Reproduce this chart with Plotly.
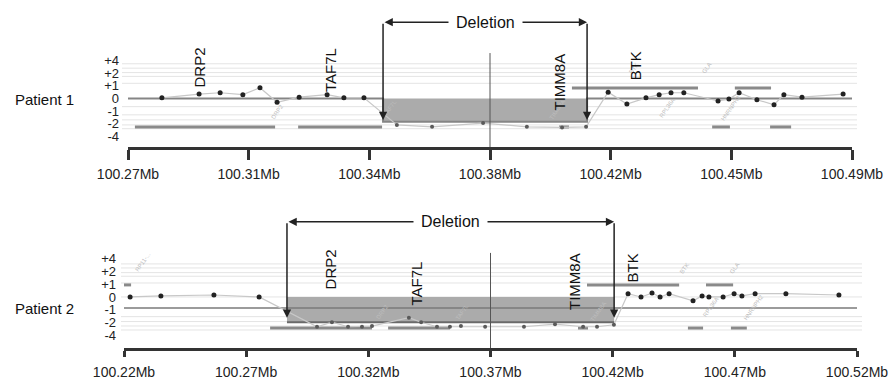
import plotly.graph_objects as go

# ---------------- Panel 1 (Patient 1) ----------------
p1_ticks = [100.27, 100.30667, 100.34333, 100.38, 100.41667, 100.45333, 100.49]
p1_ticklabels = ["100.27Mb", "100.31Mb", "100.34Mb", "100.38Mb", "100.42Mb", "100.45Mb", "100.49Mb"]
p1_x = [100.2803, 100.2916, 100.2980, 100.3049, 100.3101, 100.3153, 100.3220, 100.3305, 100.3356, 100.3417,
        100.3517, 100.3624, 100.3779, 100.3912, 100.4019, 100.4092,
        100.4159, 100.4216, 100.4274, 100.4314, 100.4350, 100.4389, 100.4493, 100.4526, 100.4557, 100.4611,
        100.4663, 100.4693, 100.4748, 100.4873]
p1_y = [0.05, 0.35, 0.45, 0.3, 0.85, -0.3, 0.1, 0.3, 0.05, 0.05,
        -2.1, -2.25, -1.95, -2.25, -2.3, -2.25,
        0.5, -0.45, 0.05, 0.3, 0.45, 0.45, -0.2, -0.05, 0.45, -0.1,
        -0.5, 0.3, 0.1, 0.35]
p1_deletion = [100.3475, 100.4095]
p1_del_level = -1.85
p1_base_level = 0.0
p1_genes_low = [[100.2721, 100.3147], [100.3217, 100.3472], [100.4010, 100.4040],
                [100.4475, 100.4529], [100.4651, 100.4715]]
p1_genes_low_level = -2.26
p1_genes_high = [[100.4049, 100.4432], [100.4544, 100.4654]]
p1_genes_high_level = 0.83
p1_gene_names = ["DRP2", "TAF7L", "TIMM8A", "BTK"]
p1_gene_x = [100.2916, 100.3317, 100.4011, 100.4242]
p1_gene_y = [2.46, 2.26, 1.3, 2.58]
p1_faint_names = ["DRP2", "TAF7L", "TIMM8A", "BTK", "GLA", "RPL36A", "HNRNPH2"]
p1_faint_x = [100.3153, 100.3496, 100.4004, 100.4238, 100.4459, 100.4338, 100.4532]
p1_faint_y = [-1.05, -0.75, -0.9, 2.4, 2.4, -0.75, -0.75]

# ---------------- Panel 2 (Patient 2) ----------------
p2_ticks = [100.22, 100.27, 100.32, 100.37, 100.42, 100.47, 100.52]
p2_ticklabels = ["100.22Mb", "100.27Mb", "100.32Mb", "100.37Mb", "100.42Mb", "100.47Mb", "100.52Mb"]
p2_x = [100.2225, 100.2351, 100.2568, 100.2753,
        100.2990, 100.3051, 100.3117, 100.3174, 100.3215, 100.3366, 100.3416, 100.3481, 100.3534,
        100.3579, 100.3678, 100.3837, 100.3964, 100.4079, 100.4136, 100.4205,
        100.4263, 100.4316, 100.4361, 100.4394, 100.4431, 100.4529, 100.4566, 100.4594, 100.4652,
        100.4697, 100.4729, 100.4783, 100.4909, 100.5126]
p2_y = [0.0, 0.08, 0.15, 0.0,
        -2.3, -1.95, -2.3, -2.3, -2.25, -1.6, -1.95, -2.3, -2.3,
        -2.25, -2.3, -2.3, -2.1, -2.3, -2.3, -2.15,
        0.25, 0.0, 0.3, 0.0, 0.25, -0.3, 0.08, 0.0, 0.0,
        0.25, 0.08, 0.25, 0.25, 0.15]
p2_deletion = [100.2867, 100.4206]
p2_del_level = -1.95
p2_base_level = -0.85
p2_genes_low = [[100.2798, 100.3215], [100.3281, 100.3534], [100.4058, 100.4099],
                [100.4508, 100.4570], [100.4684, 100.4749]]
p2_genes_low_level = -2.4
p2_genes_high = [[100.4095, 100.4472], [100.4582, 100.4693], [100.2188, 100.2229]]
p2_genes_high_level = 0.93
p2_gene_names = ["DRP2", "TAF7L", "TIMM8A", "BTK"]
p2_gene_x = [100.3049, 100.3399, 100.4046, 100.4281]
p2_gene_y = [2.16, 1.04, 1.16, 2.24]
p2_faint_names = ["RP11-...", "DRP2", "TAF7L", "TIMM8A", "BTK", "GLA", "RPL36A", "HNRNPH2"]
p2_faint_x = [100.2277, 100.3257, 100.3584, 100.4140, 100.4496, 100.4701, 100.4603, 100.4779]
p2_faint_y = [2.7, -1.15, -1.15, -1.15, 2.2, 2.2, -0.8, -0.8]

y_tickvals = [3, 2, 1, 0, -1, -2, -3]
y_ticktext = ["+4", "+2", "+1", "0", "-1", "-2", "-4"]
grid_levels_1 = [2.75, 2.4, 2.05, 1.75, 1.2, -0.65, -1.3, -1.7, -2.1, -2.4]
grid_levels_2 = [2.55, 2.24, 1.88, 1.6, 1.08, 0.0, -1.52, -1.9, -2.24, -2.55]

FONT = "Liberation Sans, Arial, Helvetica, sans-serif"
W, H = 892, 380
P1_YRANGE = [-3.85, 6.3]
P2_YRANGE = [-3.94, 6.25]

fig = go.Figure()
shapes = []
annotations = []


def add_panel(xr, yr, xs, ys, dele, del_lvl, base_lvl, glow, glow_lvl, ghigh, ghigh_lvl,
              gnames, gx, gy, fnames, fx, fy, ticks, grid_levels, grid_px, top_arrow_y,
              tip_y, mid_top, ybottom, panel2):
    for lv in grid_levels:
        shapes.append(dict(type="line", xref="paper", yref=yr, x0=grid_px[0] / W, x1=grid_px[1] / W,
                           y0=lv, y1=lv, line=dict(color="#e4e4e4", width=1), layer="below"))
    fig.add_trace(go.Scatter(x=[dele[0], dele[0], dele[1], dele[1]], y=[0, del_lvl, del_lvl, 0],
                             fill="toself", fillcolor="#ababab", line=dict(width=0), mode="lines",
                             xaxis=xr, yaxis=yr, hoverinfo="skip"))
    gxl, gyl = [], []
    for s, e in glow:
        gxl += [s, e, None]
        gyl += [glow_lvl, glow_lvl, None]
    for s, e in ghigh:
        gxl += [s, e, None]
        gyl += [ghigh_lvl, ghigh_lvl, None]
    fig.add_trace(go.Scatter(x=gxl, y=gyl, mode="lines", line=dict(color="#8a8a8a", width=3),
                             xaxis=xr, yaxis=yr, hoverinfo="skip"))
    x0, x1 = ticks[0], ticks[-1]
    if not panel2:
        sx = [x0, dele[0], dele[0], dele[1], dele[1], x1]
        sy = [base_lvl, base_lvl, del_lvl, del_lvl, base_lvl, base_lvl]
        fig.add_trace(go.Scatter(x=sx, y=sy, mode="lines", line=dict(color="#858585", width=2),
                                 xaxis=xr, yaxis=yr, hoverinfo="skip"))
    else:
        fig.add_trace(go.Scatter(x=[x0, x1], y=[base_lvl, base_lvl], mode="lines",
                                 line=dict(color="#7a7a7a", width=1.6), xaxis=xr, yaxis=yr, hoverinfo="skip"))
        fig.add_trace(go.Scatter(x=[dele[0], dele[1]], y=[del_lvl, del_lvl], mode="lines",
                                 line=dict(color="#6a6a6a", width=2), xaxis=xr, yaxis=yr, hoverinfo="skip"))
    fig.add_trace(go.Scatter(x=xs, y=ys, mode="lines", line=dict(color="#c8c8c8", width=1.2),
                             xaxis=xr, yaxis=yr, hoverinfo="skip"))
    inside = [(dele[0] <= x <= dele[1]) for x in xs]
    fig.add_trace(go.Scatter(x=[x for x, i in zip(xs, inside) if not i],
                             y=[y for y, i in zip(ys, inside) if not i],
                             mode="markers", marker=dict(color="#222222", size=5),
                             xaxis=xr, yaxis=yr, hoverinfo="skip"))
    fig.add_trace(go.Scatter(x=[x for x, i in zip(xs, inside) if i],
                             y=[y for y, i in zip(ys, inside) if i],
                             mode="markers", marker=dict(color="#5a5a5a", size=4),
                             xaxis=xr, yaxis=yr, hoverinfo="skip"))
    shapes.append(dict(type="line", xref=xr, yref=yr, x0=ticks[3], x1=ticks[3], y0=mid_top, y1=ybottom,
                       line=dict(color="#555555", width=1), layer="above"))
    for n, x, y in zip(fnames, fx, fy):
        annotations.append(dict(x=x, y=y, xref=xr, yref=yr, text=n, showarrow=False, textangle=-55,
                                font=dict(size=6, color="#bdbdbd", family=FONT)))
    for n, x, y in zip(gnames, gx, gy):
        annotations.append(dict(x=x, y=y, xref=xr, yref=yr, text=n, showarrow=False, textangle=-90,
                                font=dict(size=15, color="#111111", family=FONT)))
    annotations.append(dict(x=dele[1], y=top_arrow_y, ax=dele[0], ay=top_arrow_y, xref=xr, yref=yr,
                            axref=xr, ayref=yr, text="", showarrow=True, arrowside="end+start",
                            arrowhead=2, startarrowhead=2, arrowsize=1.1, startarrowsize=1.1,
                            arrowwidth=1.5, arrowcolor="#222222"))
    annotations.append(dict(x=(dele[0] + dele[1]) / 2, y=top_arrow_y, xref=xr, yref=yr, text="Deletion",
                            showarrow=False, bgcolor="white", borderpad=7,
                            font=dict(size=16, color="#111111", family=FONT)))
    for xd in dele:
        annotations.append(dict(x=xd, y=tip_y, ax=xd, ay=top_arrow_y, xref=xr, yref=yr, axref=xr, ayref=yr,
                                text="", showarrow=True, arrowhead=2, arrowsize=1.1, arrowwidth=1.5,
                                arrowcolor="#222222"))


add_panel("x", "y", p1_x, p1_y, p1_deletion, p1_del_level, p1_base_level,
          p1_genes_low, p1_genes_low_level, p1_genes_high, p1_genes_high_level,
          p1_gene_names, p1_gene_x, p1_gene_y, p1_faint_names, p1_faint_x, p1_faint_y,
          p1_ticks, grid_levels_1, (122, 857), 6.05, -1.7, 3.6, P1_YRANGE[0], False)
add_panel("x2", "y2", p2_x, p2_y, p2_deletion, p2_del_level, p2_base_level,
          p2_genes_low, p2_genes_low_level, p2_genes_high, p2_genes_high_level,
          p2_gene_names, p2_gene_x, p2_gene_y, p2_faint_names, p2_faint_x, p2_faint_y,
          p2_ticks, grid_levels_2, (121, 862), 5.8, -1.6, 3.4, P2_YRANGE[0], True)

annotations.append(dict(x=13 / W, y=-0.1, xref="paper", yref="y", xanchor="left", text="Patient 1",
                        showarrow=False, font=dict(size=15, color="#111111", family=FONT)))
annotations.append(dict(x=13 / W, y=-0.9, xref="paper", yref="y2", xanchor="left", text="Patient 2",
                        showarrow=False, font=dict(size=15, color="#111111", family=FONT)))

xcommon = dict(showgrid=False, zeroline=False, showline=True, linecolor="#333333", linewidth=2.5,
               ticks="outside", tickwidth=2.5, tickcolor="#333333", automargin=False,
               tickfont=dict(size=14, color="#222222", family=FONT))
xinner = dict(showgrid=False, zeroline=False, showline=False, ticks="inside", tickwidth=2.5,
              tickcolor="#333333", showticklabels=False, automargin=False)
ycommon = dict(showgrid=False, zeroline=False, showline=False, ticks="", automargin=False,
               tickvals=y_tickvals, ticktext=y_ticktext,
               tickfont=dict(size=13, color="#222222", family=FONT))

fig.update_layout(
    template="none",
    width=W, height=H, margin=dict(l=0, r=0, t=0, b=0, pad=0),
    paper_bgcolor="white", plot_bgcolor="white", showlegend=False,
    xaxis=dict(domain=[128 / W, 852 / W], range=[p1_ticks[0], p1_ticks[-1]], anchor="y",
               tickvals=p1_ticks, ticktext=p1_ticklabels, ticklen=10, ticklabelstandoff=2, **xcommon),
    xaxis3=dict(overlaying="x", anchor="y", side="bottom", range=[p1_ticks[0], p1_ticks[-1]],
                tickvals=p1_ticks, ticklen=3, **xinner),
    yaxis=dict(domain=[1 - 147 / H, 1 - 19 / H], range=P1_YRANGE, anchor="free",
               position=119 / W, **ycommon),
    xaxis2=dict(domain=[124 / W, 857 / W], range=[p2_ticks[0], p2_ticks[-1]], anchor="y2",
                tickvals=p2_ticks, ticktext=p2_ticklabels, ticklen=6, ticklabelstandoff=3, **xcommon),
    xaxis4=dict(overlaying="x2", anchor="y2", side="bottom", range=[p2_ticks[0], p2_ticks[-1]],
                tickvals=p2_ticks, ticklen=4, **xinner),
    yaxis2=dict(domain=[1 - 348 / H, 1 - 216 / H], range=P2_YRANGE, anchor="free",
                position=116 / W, **ycommon),
    shapes=shapes, annotations=annotations,
)

fig.write_html("out.html", config={"displayModeBar": False},
               post_script="document.body.style.margin='0';document.body.style.padding='0';")
